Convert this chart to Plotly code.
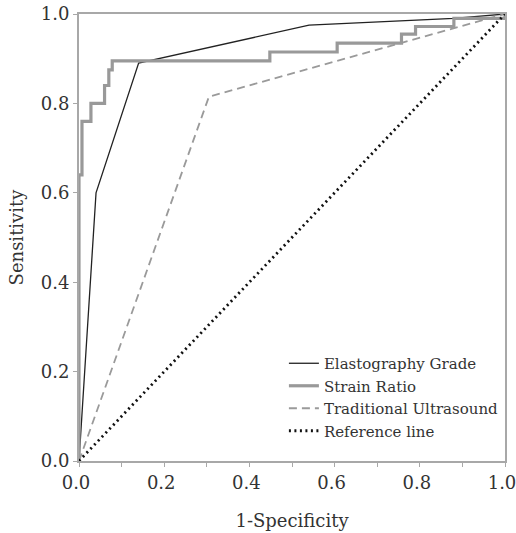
import plotly.graph_objects as go

# Elastography Grade ROC
eg_x = [0.0, 0.04, 0.14, 0.54, 0.88, 1.0]
eg_y = [0.0, 0.60, 0.89, 0.975, 0.99, 1.0]

# Strain Ratio ROC (step curve)
sr_x = [0.0, 0.0, 0.007, 0.007, 0.028, 0.028, 0.06, 0.06, 0.07, 0.07, 0.078, 0.078, 0.448, 0.448,
        0.606, 0.606, 0.757, 0.757, 0.79, 0.79, 0.88, 0.88, 1.0, 1.0]
sr_y = [0.0, 0.64, 0.64, 0.76, 0.76, 0.80, 0.80, 0.84, 0.84, 0.875, 0.875, 0.895, 0.895, 0.915,
        0.915, 0.935, 0.935, 0.955, 0.955, 0.972, 0.972, 0.99, 0.99, 1.0]

# Traditional Ultrasound ROC
tu_x = [0.0, 0.305, 1.0]
tu_y = [0.0, 0.815, 1.0]

# Reference line
ref_x = [0.0, 1.0]
ref_y = [0.0, 1.0]

tick_vals = [0.0, 0.2, 0.4, 0.6, 0.8, 1.0]
tick_text = ["0.0", "0.2", "0.4", "0.6", "0.8", "1.0"]

SERIF = "DejaVu Serif"

fig = go.Figure()
fig.add_trace(go.Scatter(x=eg_x, y=eg_y, mode="lines", name="Elastography Grade",
                         line=dict(color="#222222", width=1.3)))
fig.add_trace(go.Scatter(x=sr_x, y=sr_y, mode="lines", name="Strain Ratio",
                         line=dict(color="#999999", width=3.2)))
fig.add_trace(go.Scatter(x=tu_x, y=tu_y, mode="lines", name="Traditional Ultrasound",
                         line=dict(color="#9a9a9a", width=1.8, dash="8px,5px")))
fig.add_trace(go.Scatter(x=ref_x, y=ref_y, mode="lines", name="Reference line",
                         line=dict(color="#111111", width=2.8, dash="2px,3.5px")))

axis_common = dict(
    range=[0, 1], showgrid=False, zeroline=False, showline=True, mirror=True,
    linecolor="#a8a8a8", linewidth=2, ticks="outside", ticklen=4, tickwidth=1.2,
    tickcolor="#a8a8a8", tickvals=tick_vals, ticktext=tick_text,
    tickfont=dict(family=SERIF, size=18, color="#333333"),
    ticklabeloverflow="allow", automargin=False,
)

fig.update_xaxes(**axis_common, ticklabelshift=-3,
                 minor=dict(tickvals=[0.1, 0.3, 0.5, 0.7, 0.9], ticks="outside", ticklen=4,
                            tickcolor="#a8a8a8", tickwidth=1.2),
                 title=dict(text="1-Specificity", standoff=23,
                            font=dict(family=SERIF, size=18, color="#333333")))
fig.update_yaxes(**axis_common,
                 title=dict(text="Sensitivity", standoff=12,
                            font=dict(family=SERIF, size=18, color="#333333")))

fig.update_layout(
    width=516, height=533,
    margin=dict(l=79, r=11, t=14, b=72),
    plot_bgcolor="white", paper_bgcolor="white",
    showlegend=True,
    hovermode=False,
    legend=dict(x=0.481, y=0.255, xanchor="left", yanchor="top",
                bgcolor="rgba(255,255,255,0)", borderwidth=0,
                font=dict(family=SERIF, size=15, color="#333333"),
                tracegroupgap=0, itemwidth=30),
)

# remove the browser's default body margin so the figure fills the window
fig.write_html("out.html", config={"displayModeBar": False},
               post_script="document.body.style.margin='0';")
